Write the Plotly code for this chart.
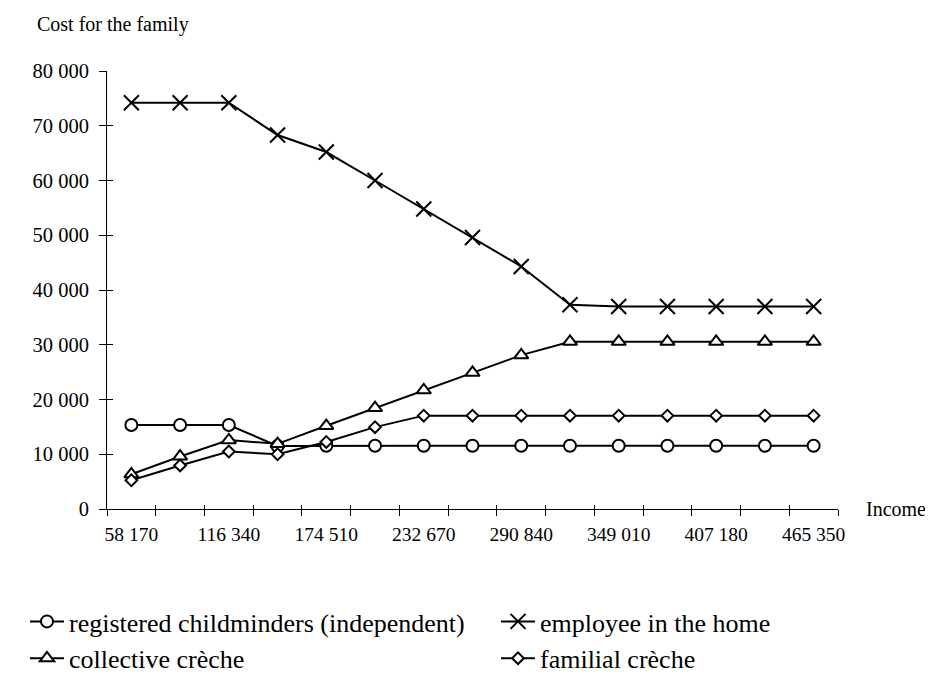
import plotly.graph_objects as go

# ---- data ----
income_tick_labels = ["58 170", "116 340", "174 510", "232 670",
                      "290 840", "349 010", "407 180", "465 350"]
n_categories = 15
x_pos = list(range(n_categories))
label_pos = x_pos[::2]

childminders = [15350, 15350, 15350, 11500, 11550, 11550, 11550, 11550,
                11550, 11550, 11550, 11550, 11550, 11550, 11550]
employee = [74200, 74200, 74200, 68300, 65200, 60000, 54800, 49600,
            44300, 37300, 37000, 37000, 37000, 37000, 37000]
collective = [6350, 9600, 12600, 11900, 15200, 18450, 21700, 24900,
              28100, 30550, 30550, 30550, 30550, 30550, 30550]
familial = [5250, 7950, 10500, 10000, 12250, 14950, 17050, 17050,
            17050, 17050, 17050, 17050, 17050, 17050, 17050]

y_tick_vals = [0, 10000, 20000, 30000, 40000, 50000, 60000, 70000, 80000]
y_tick_text = ["0", "10 000", "20 000", "30 000", "40 000",
               "50 000", "60 000", "70 000", "80 000"]

FONT = "Liberation Serif"
BLACK = "black"

# page body has an 8px margin; figure is sized/positioned to compensate
W, H = 925, 666
ML, MR, MT, MB = 99, 95, 63, 165
PW = W - ML - MR
PH = H - MT - MB

fig = go.Figure()

def add(name, vals, symbol, size, legend):
    fig.add_trace(go.Scatter(
        x=x_pos, y=vals, name=name, mode="lines+markers",
        line=dict(color=BLACK, width=2),
        marker=dict(symbol=symbol, size=size, color="white",
                    line=dict(color=BLACK, width=2)),
        legend=legend,
    ))

add("registered childminders (independent)", childminders, "circle", 12, "legend")
add("employee in the home", employee, "x-thin", 15, "legend2")
add("collective crèche", collective, "triangle-up", 12.5, "legend")
add("familial crèche", familial, "diamond", 9, "legend2")

fig.data[1].marker.color = BLACK

axis_common = dict(showgrid=False, zeroline=False, color=BLACK)

legend_common = dict(
    xref="container", yref="container",
    xanchor="left", yanchor="top", orientation="v",
    font=dict(family=FONT, size=26, color=BLACK),
    bgcolor="rgba(0,0,0,0)", borderwidth=0, itemwidth=34,
    tracegroupgap=0,
)

fig.update_layout(
    width=W, height=H,
    margin=dict(l=ML, r=MR, t=MT, b=MB, autoexpand=False),
    paper_bgcolor="white", plot_bgcolor="white",
    font=dict(family=FONT, color=BLACK, size=20),
    xaxis=dict(
        **axis_common, range=[-0.5, n_categories - 0.5],
        tickmode="array", tickvals=label_pos, ticktext=income_tick_labels,
        ticks="", showline=True, linecolor=BLACK, linewidth=1,
        tickfont=dict(family=FONT, size=19.5, color=BLACK),
        ticklabelstandoff=8,
        minor=dict(ticks="outside", ticklen=6, tickwidth=1, tickcolor=BLACK,
                   tick0=-0.5, dtick=1, showgrid=False),
    ),
    xaxis2=dict(
        **axis_common, overlaying="x", anchor="y", side="bottom",
        range=[-0.5, n_categories - 0.5], showticklabels=False,
        tickmode="linear", tick0=-0.5, dtick=1,
        ticks="inside", ticklen=4, tickwidth=1, tickcolor=BLACK,
    ),
    yaxis=dict(
        **axis_common, range=[0, 80000],
        tickmode="array", tickvals=y_tick_vals, ticktext=y_tick_text,
        ticks="outside", ticklen=7, tickwidth=1, tickcolor=BLACK,
        showline=True, linecolor=BLACK, linewidth=1,
        tickfont=dict(family=FONT, size=20.5, color=BLACK),
        ticklabelstandoff=6,
    ),
    yaxis2=dict(
        **axis_common, overlaying="y", anchor="x", side="left",
        range=[0, 80000], showticklabels=False,
        tickmode="array", tickvals=y_tick_vals,
        ticks="inside", ticklen=6, tickwidth=1, tickcolor=BLACK,
    ),
    legend=dict(**legend_common, x=17 / W, y=1 - 590 / H),
    legend2=dict(**legend_common, x=488 / W, y=1 - 590 / H),
    showlegend=True,
    annotations=[
        dict(text="Cost for the family", xref="paper", yref="paper",
             x=-72 / PW, y=1 + 46 / PH, xanchor="left", yanchor="middle",
             showarrow=False, font=dict(family=FONT, size=20, color=BLACK)),
        dict(text="Income", xref="paper", yref="y",
             x=1 + 26 / PW, y=0, xanchor="left", yanchor="middle",
             showarrow=False, font=dict(family=FONT, size=20, color=BLACK)),
    ],
)

# invisible trace to activate the overlay axes (inner half of crossing ticks)
fig.add_trace(go.Scatter(x=[0], y=[0], xaxis="x2", yaxis="y2", mode="markers",
                         marker=dict(opacity=0), showlegend=False, hoverinfo="skip"))

fig.write_html("out.html")
